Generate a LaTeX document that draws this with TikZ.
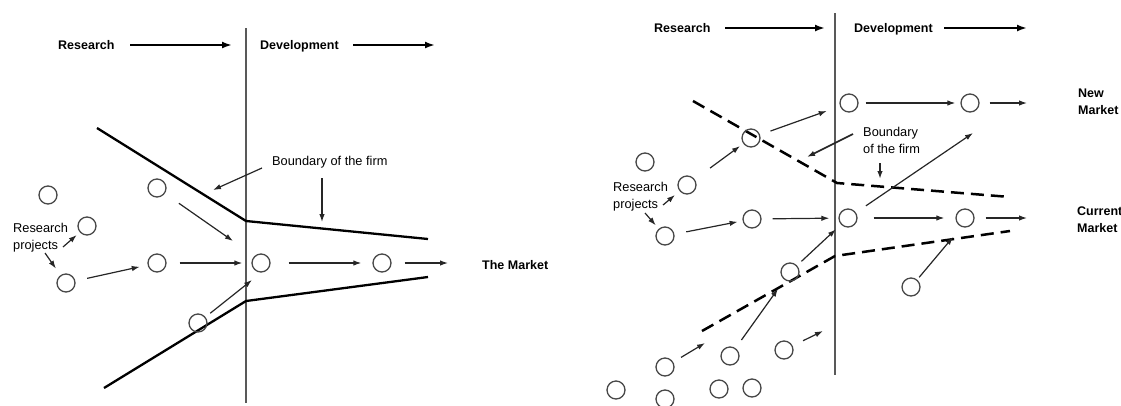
\documentclass[tikz,border=0pt]{standalone}
\usepackage{fontspec}
\setmainfont{Liberation Sans}
\usetikzlibrary{arrows.meta}
\tikzset{
  proj/.style={circle, draw=black!72, line width=1.3pt, minimum size=18pt, inner sep=0pt},
  hdr/.style={font=\fontsize{12.5}{17}\selectfont\bfseries, inner sep=0pt},
  lbl/.style={font=\fontsize{12.8}{17}\selectfont, inner sep=0pt, align=left},
  mkt/.style={font=\fontsize{12.5}{17}\selectfont\bfseries, inner sep=0pt, align=left},
  arr/.style={-{Latex[length=8pt,width=5.5pt]}, line width=1.2pt, draw=black!85},
  harr/.style={-{Latex[length=10pt,width=7pt]}, line width=2pt},
  divider/.style={line width=1.2pt, draw=black!65},
  firm/.style={line width=2.3pt, line join=round},
  firmdash/.style={line width=2.5pt, dash pattern=on 13pt off 7pt}
}
\begin{document}
\begin{tikzpicture}[x=1pt,y=-1pt]
\useasboundingbox (0,0) rectangle (1121,405);

% ================= LEFT PANEL =================
\node[hdr, anchor=base west] (hRL) at (58,49) {Research};
\node[hdr, anchor=base west] (hDL) at (260,49) {Development};
\coordinate (ha1s) at (130,45); \coordinate (ha1e) at (232,45);
\coordinate (ha2s) at (353,45); \coordinate (ha2e) at (435,45);
\draw[harr] (ha1s) -- (ha1e);
\draw[harr] (ha2s) -- (ha2e);

\coordinate (vLt) at (246,28); \coordinate (vLb) at (246,403);
\draw[divider] (vLt) -- (vLb);

% boundary of the firm (solid)
\coordinate (bu1) at (97,128); \coordinate (bu2) at (246,221); \coordinate (bu3) at (428,239);
\coordinate (bl1) at (104,388); \coordinate (bl2) at (246,301); \coordinate (bl3) at (428,277);
\draw[firm] (bu1) -- (bu2) -- (bu3);
\draw[firm] (bl1) -- (bl2) -- (bl3);

% projects
\node[proj] (L1) at (48,195) {};
\node[proj] (L2) at (87,226) {};
\node[proj] (L3) at (66,283) {};
\node[proj] (L4) at (157,188) {};
\node[proj] (L5) at (157,263) {};
\node[proj] (L6) at (261,263) {};
\node[proj] (L7) at (382,263) {};
\node[proj] (L8) at (198,323) {};

\node[lbl, anchor=west] (rpL) at (13,238) {Research\\projects};
\node[lbl, anchor=base west] (bfL) at (272,165) {Boundary of the firm};
\node[mkt, anchor=base west] (mktL) at (482,269) {The Market};

\coordinate (rpLa) at (63,247);
\coordinate (rpLb) at (45,253);
\draw[arr, shorten >=4pt] (rpLa) -- (L2);
\draw[arr, shorten >=8pt] (rpLb) -- (L3);
\draw[arr, shorten <=12pt, shorten >=8pt] (L3) -- (L5);
\draw[arr, shorten <=13pt, shorten >=9pt] (L5) -- (L6);
\draw[arr, shorten <=18pt, shorten >=11pt] (L6) -- (L7);
\coordinate (L7e) at (448,263);
\draw[arr, shorten <=13pt] (L7) -- (L7e);
\coordinate (L4e) at (233,241);
\draw[arr, shorten <=17pt] (L4) -- (L4e);
\coordinate (L8e) at (252,280);
\draw[arr, shorten <=6pt] (L8) -- (L8e);
\coordinate (bfLa) at (262,168); \coordinate (bfLae) at (213,190);
\coordinate (bfLb) at (322,178); \coordinate (bfLbe) at (322,222);
\draw[arr] (bfLa) -- (bfLae);
\draw[arr] (bfLb) -- (bfLbe);

% ================= RIGHT PANEL =================
\node[hdr, anchor=base west] (hRR) at (654,32) {Research};
\node[hdr, anchor=base west] (hDR) at (854,32) {Development};
\coordinate (ha3s) at (725,28); \coordinate (ha3e) at (825,28);
\coordinate (ha4s) at (944,28); \coordinate (ha4e) at (1027,28);
\draw[harr] (ha3s) -- (ha3e);
\draw[harr] (ha4s) -- (ha4e);

\coordinate (vRt) at (835,13); \coordinate (vRb) at (835,375);
\draw[divider] (vRt) -- (vRb);

% boundary of the firm (dashed)
\coordinate (du1) at (693,101); \coordinate (du2) at (837,183); \coordinate (du3) at (1010,197);
\coordinate (dl1) at (702,331); \coordinate (dl2) at (835,256); \coordinate (dl3) at (1010,231);
\draw[firmdash] (du1) -- (du2) -- (du3);
\draw[firmdash] (dl1) -- (dl2) -- (dl3);

\node[proj] (R1) at (849,103) {};
\node[proj] (R2) at (970,103) {};
\node[proj] (R3) at (751,138) {};
\node[proj] (R4) at (645,162) {};
\node[proj] (R5) at (687,185) {};
\node[proj] (R6) at (665,236) {};
\node[proj] (R7) at (752,219) {};
\node[proj] (R8) at (848,218) {};
\node[proj] (R9) at (965,218) {};
\node[proj] (R10) at (790,272) {};
\node[proj] (R11) at (911,287) {};
\node[proj] (R12) at (665,367) {};
\node[proj] (R13) at (730,356) {};
\node[proj] (R14) at (784,350) {};
\node[proj] (R15) at (616,390) {};
\node[proj] (R16) at (665,399) {};
\node[proj] (R17) at (719,389) {};
\node[proj] (R18) at (752,388) {};

\node[lbl, anchor=west] (rpR) at (613,197) {Research\\projects};
\node[lbl, anchor=west] (bfR) at (863,140) {Boundary\\of the firm};
\node[mkt, anchor=west] (mktN) at (1078,102) {New\\Market};
\node[mkt, anchor=west] (mktC) at (1077,220) {Current\\Market};

\draw[arr, shorten <=7pt, shorten >=5pt] (R1) -- (R2);
\coordinate (R2e) at (1027,103);
\draw[arr, shorten <=10pt] (R2) -- (R2e);
\draw[arr, shorten <=11pt, shorten >=14pt] (R3) -- (R1);
\draw[arr, shorten <=19pt, shorten >=4pt] (R5) -- (R3);
\coordinate (rpRa) at (663,205);
\coordinate (rpRb) at (645,213);
\draw[arr, shorten >=6pt] (rpRa) -- (R5);
\draw[arr, shorten >=4.5pt] (rpRb) -- (R6);
\draw[arr, shorten <=12pt, shorten >=5pt] (R6) -- (R7);
\draw[arr, shorten <=11pt, shorten >=9pt] (R7) -- (R8);
\draw[arr, shorten <=16pt, shorten >=11pt] (R8) -- (R9);
\coordinate (R9e) at (1027,218);
\draw[arr, shorten <=11pt] (R9) -- (R9e);
\coordinate (R8e) at (973,133);
\draw[arr, shorten <=12pt] (R8) -- (R8e);
\draw[arr, shorten <=6pt, shorten >=7pt] (R10) -- (R8);
\draw[arr, shorten <=10pt, shorten >=11pt] (R13) -- (R10);
\coordinate (R12e) at (705,343);
\draw[arr, shorten <=9pt] (R12) -- (R12e);
\coordinate (R14e) at (823,331);
\draw[arr, shorten <=11.5pt] (R14) -- (R14e);
\coordinate (R11e) at (953,237);
\draw[arr, shorten <=3pt] (R11) -- (R11e);
\coordinate (bfRa) at (853,134); \coordinate (bfRae) at (807,157);
\coordinate (bfRb) at (880,163); \coordinate (bfRbe) at (880,179);
\draw[arr, line width=1.6pt] (bfRa) -- (bfRae);
\draw[arr, line width=1.6pt] (bfRb) -- (bfRbe);
\end{tikzpicture}
\end{document}
